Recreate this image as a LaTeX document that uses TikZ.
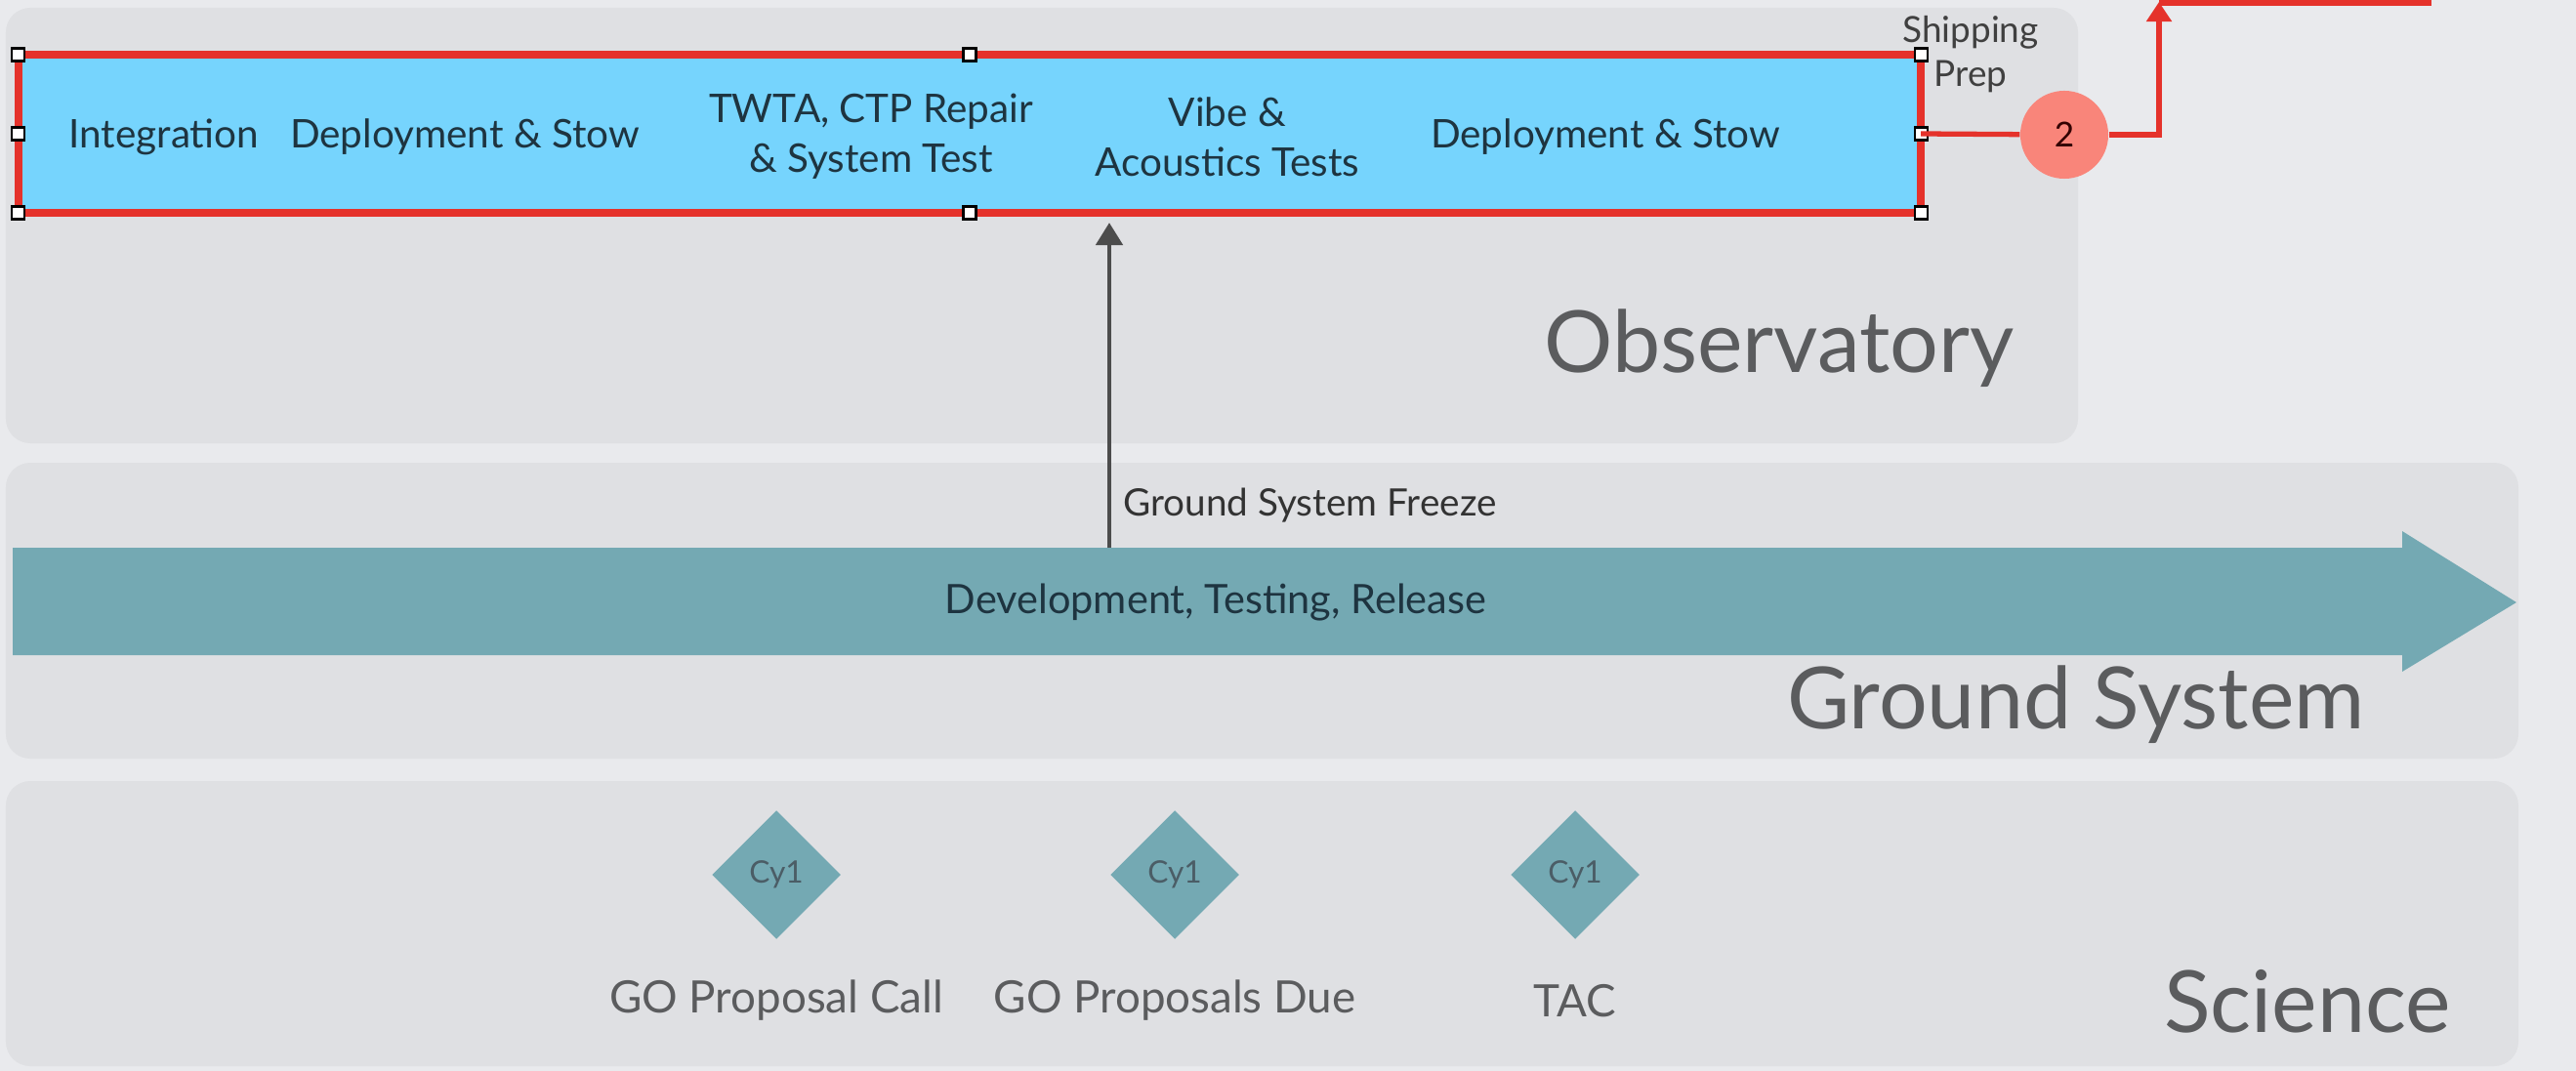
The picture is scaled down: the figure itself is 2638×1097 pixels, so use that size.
\documentclass[tikz,border=0pt]{standalone}
\usepackage{fontspec}
\setmainfont{Lato}
\usetikzlibrary{shapes.geometric,arrows.meta}

\definecolor{bggray}{HTML}{E9EAED}
\definecolor{panelgray}{HTML}{DFE0E3}
\definecolor{barblue}{HTML}{76D4FD}
\definecolor{selred}{HTML}{E5322B}
\definecolor{tealband}{HTML}{74A9B3}
\definecolor{salmon}{HTML}{F9857A}
\definecolor{inkdark}{HTML}{1E3440}
\definecolor{labelgray}{HTML}{5B5C5E}

\tikzset{
  panel/.style={fill=panelgray, rounded corners=0.25cm},
  phasebox/.style={draw=selred, line width=2.3pt, fill=barblue, outer sep=0pt},
  handle/.style={draw=black, fill=white, line width=0.6pt, minimum size=0.13cm, inner sep=0pt},
  phase/.style={text=inkdark, align=center, font=\fontsize{11.5}{14.5}\selectfont},
  lanename/.style={text=labelgray, font=\fontsize{25}{30}\selectfont},
  milestone/.style={diamond, aspect=1, fill=tealband, minimum size=1.32cm, inner sep=0pt,
    text=inkdark!80, font=\fontsize{9}{10}\selectfont},
  msname/.style={text=labelgray, font=\fontsize{13}{15}\selectfont},
  redlink/.style={draw=selred, line width=1.5pt}
}

\begin{document}
\begin{tikzpicture}[x=0.01cm, y=-0.01cm]
\useasboundingbox (0,0) rectangle (2638,1097);
\fill[bggray] (0,0) rectangle (2638,1097);

% swim lanes
\fill[panel] (6,8) rectangle (2128,454);
\fill[panel] (6,474) rectangle (2579,777);
\fill[panel] (6,800) rectangle (2579,1092);
\node[lanename] (obs) at (1822,357) {Observatory};
\node[lanename] (gnd) at (2126,722) {Ground System};
\node[lanename] (sci) at (2363,1026) {Science};

% ground system band
\fill[tealband] (13,561) -- (2460,561) -- (2460,544) -- (2577,617)
  -- (2460,688) -- (2460,671) -- (13,671) -- cycle;
\node[phase, font=\fontsize{11.8}{13}\selectfont] (devrel) at (1245,617) {Development, Testing, Release};

% freeze milestone
\coordinate (freezefoot) at (1136,561);
\node[text=black!80, font=\fontsize{11}{12}\selectfont, anchor=west] (freeze) at (1138,518) {Ground System Freeze};

% observatory phases
\node[phasebox, minimum width=19.47cm, minimum height=1.62cm] (obsbar) at (993,137) {};
\draw[draw=black!70, line width=1.4pt, -{Triangle[width=0.27cm, length=0.23cm]}]
  (freezefoot) -- ([yshift=-0.1cm]obsbar.south -| freezefoot);
\foreach \a in {north west,north,north east,west,east,south west,south,south east}
  \node[handle] at (obsbar.\a) {};

\node[phase] (integ) at (168,140) {Integration};
\node[phase] (deploy1) at (476,140) {Deployment \& Stow};
\node[phase] (twta) at (892,140) {TWTA, CTP Repair\\\& System Test};
\node[phase] (vibe) at (1257,140) {Vibe \&\\Acoustics Tests};
\node[phase] (deploy2) at (1644,140) {Deployment \& Stow};
\node[text=black!75, align=center, font=\fontsize{10.5}{12.8}\selectfont] (ship) at (2018,56) {Shipping\\Prep};

% hand-off
\node[circle, fill=salmon, minimum size=0.9cm, inner sep=0pt, text=black!80!red,
  font=\fontsize{10}{12}\selectfont] (step2) at (2114,138) {2};
\coordinate (turn) at (2211,138);
\coordinate (up) at (2211,2);
\coordinate (nextend) at (2490,2);
\draw[redlink] (obsbar.east) -- (step2);
\draw[redlink, -{Triangle[width=0.25cm, length=0.2cm]}] (step2) -- (turn) -- (up);
\draw[selred, line width=2.3pt] (up) -- (nextend);

% science milestones
\node[milestone] (cfp) at (795,896) {Cy1};
\node[milestone] (due) at (1203,896) {Cy1};
\node[milestone] (tac) at (1613,896) {Cy1};
\node[msname] (cfpname) at (795,1025) {GO Proposal Call};
\node[msname] (duename) at (1203,1025) {GO Proposals Due};
\node[msname] (tacname) at (1613,1025) {TAC};
\end{tikzpicture}
\end{document}
